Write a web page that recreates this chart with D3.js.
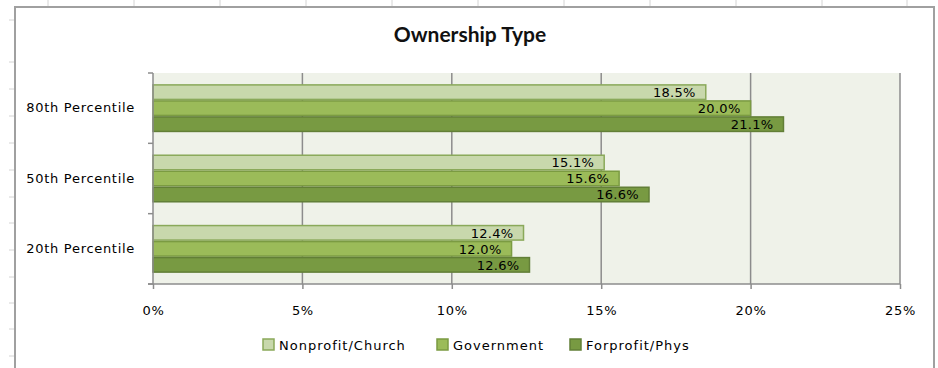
<!DOCTYPE html>
<html>
<head>
<meta charset="utf-8">
<script src="https://cdn.jsdelivr.net/npm/d3@7"></script>
<style>
  body { margin: 0; background: #fff; }
  .lbl { font-family: "DejaVu Sans", sans-serif; font-size: 13px; fill: #000; letter-spacing: 0.7px; }
  .leg { letter-spacing: 1px; }
  .title { font-family: Lato, "DejaVu Sans", sans-serif; font-weight: bold; font-size: 21px; fill: #111; }
</style>
</head>
<body>
<div id="chart"></div>
<script>

var categories = ["80th Percentile", "50th Percentile", "20th Percentile"];
var seriesNames = ["Nonprofit/Church", "Government", "Forprofit/Phys"];
var nonprofit = [18.5, 15.1, 12.4];
var government = [20.0, 15.6, 12.0];
var forprofit = [21.1, 16.6, 12.6];
var xTicks = [0, 5, 10, 15, 20, 25];

var fills = ["#c8d8ac", "#9bbb59", "#789a42"];
var strokes = ["#8aa95a", "#7b9b42", "#627f37"];

var width = 938, height = 368;
var plot = {left: 153, right: 900, top: 73, bottom: 284};

var svg = d3.select("#chart").append("svg")
    .attr("width", width)
    .attr("height", height);

// spreadsheet bits behind the chart
var colLines = [48, 134, 220, 306, 392, 478, 564, 650, 736, 822, 907];
var rowMarks = [20, 62, 89, 116, 143, 170, 197, 223, 250, 277, 303, 329, 356];
svg.selectAll("line.col").data(colLines).enter().append("line")
    .attr("x1", function(d) { return d; }).attr("x2", function(d) { return d; })
    .attr("y1", 0).attr("y2", 7)
    .style("stroke", "#d4d4d4");
svg.selectAll("line.row").data(rowMarks).enter().append("line")
    .attr("x1", 9).attr("x2", 15)
    .attr("y1", function(d) { return d; }).attr("y2", function(d) { return d; })
    .style("stroke", "#d4d4d4");

// chart frame
svg.append("rect")
    .attr("x", 15).attr("y", 7)
    .attr("width", 919).attr("height", 400)
    .style("fill", "#fff")
    .style("stroke", "#a0a0a0")
    .style("stroke-width", 2);

svg.append("text")
    .attr("class", "title")
    .attr("x", 470).attr("y", 42)
    .attr("text-anchor", "middle")
    .text("Ownership Type");

var x = d3.scaleLinear().domain([0, 25]).range([plot.left, plot.right]);
var y = d3.scaleBand().domain(categories)
    .range([plot.top, plot.bottom])
    .paddingInner(0.317).paddingOuter(0.1585);
var ySub = d3.scaleBand().domain(seriesNames).range([0, y.bandwidth()]);

// plot area
svg.append("rect")
    .attr("x", plot.left).attr("y", plot.top)
    .attr("width", plot.right - plot.left).attr("height", plot.bottom - plot.top)
    .style("fill", "#eff2e9");

// gridlines
svg.selectAll("line.grid").data(xTicks.slice(1)).enter().append("line")
    .attr("x1", function(d) { return x(d); }).attr("x2", function(d) { return x(d); })
    .attr("y1", plot.top).attr("y2", plot.bottom)
    .style("stroke", "#8c8c8c").style("stroke-width", 1.5);

var series = [nonprofit, government, forprofit];
var rows = [];
categories.forEach(function(c, i) {
    seriesNames.forEach(function(s, j) {
        rows.push({cat: c, name: s, idx: j, value: series[j][i]});
    });
});

svg.selectAll("rect.bar").data(rows).enter().append("rect")
    .attr("class", "bar")
    .attr("x", x(0))
    .attr("y", function(d) { return y(d.cat) + ySub(d.name) + 0.75; })
    .attr("width", function(d) { return x(d.value) - x(0); })
    .attr("height", ySub.bandwidth() - 1.5)
    .style("fill", function(d) { return fills[d.idx]; })
    .style("stroke", function(d) { return strokes[d.idx]; })
    .style("stroke-width", 1.5);

svg.selectAll("text.val").data(rows).enter().append("text")
    .attr("class", "lbl")
    .attr("x", function(d) { return x(d.value) - 10; })
    .attr("y", function(d) { return y(d.cat) + ySub(d.name) + ySub.bandwidth() / 2; })
    .attr("dy", "0.36em")
    .attr("text-anchor", "end")
    .style("letter-spacing", "0.3px")
    .text(function(d) { return d.value.toFixed(1) + "%"; });

// x axis
var xAxis = d3.axisBottom(x)
    .tickValues(xTicks)
    .tickSize(5)
    .tickFormat(function(d) { return d + "%"; });
var gx = svg.append("g")
    .attr("transform", "translate(0," + plot.bottom + ")")
    .call(xAxis);
gx.attr("font-family", null).attr("font-size", null);
gx.select(".domain").attr("d", "M" + (plot.left - 5) + ",0H" + plot.right)
    .style("stroke", "#8c8c8c").style("stroke-width", 1.5);
gx.selectAll(".tick line").style("stroke", "#8c8c8c").style("stroke-width", 1.5);
gx.selectAll(".tick text")
    .attr("class", "lbl")
    .attr("y", 22);

// y axis
var yAxis = d3.axisLeft(y).tickSize(0).tickPadding(18);
var gy = svg.append("g")
    .attr("transform", "translate(" + plot.left + ",0)")
    .call(yAxis);
gy.attr("font-family", null).attr("font-size", null);
gy.select(".domain").remove();
gy.selectAll(".tick text").attr("class", "lbl").attr("text-anchor", "end");
gy.append("line")
    .attr("x1", 0).attr("x2", 0).attr("y1", plot.top).attr("y2", plot.bottom)
    .style("stroke", "#8c8c8c").style("stroke-width", 1.5);
var bounds = categories.map(function(c) { return y(c) - y.step() * y.paddingInner() / 2; });
bounds.push(plot.bottom);
gy.selectAll("line.ytick").data(bounds).enter().append("line")
    .attr("x1", -5).attr("x2", 0)
    .attr("y1", function(d) { return d; }).attr("y2", function(d) { return d; })
    .style("stroke", "#8c8c8c").style("stroke-width", 1.5);

// legend
var legendX = [263, 437, 570];
var leg = svg.selectAll("g.leg").data(seriesNames).enter().append("g")
    .attr("transform", function(d, i) { return "translate(" + legendX[i] + ",339)"; });
leg.append("rect")
    .attr("width", 11).attr("height", 11)
    .style("fill", function(d, i) { return fills[i]; })
    .style("stroke", function(d, i) { return strokes[i]; })
    .style("stroke-width", 1.5);
leg.append("text")
    .attr("class", "lbl leg")
    .attr("x", 16).attr("y", 6).attr("dy", "0.36em")
    .text(function(d) { return d; });

</script>
</body>
</html>
